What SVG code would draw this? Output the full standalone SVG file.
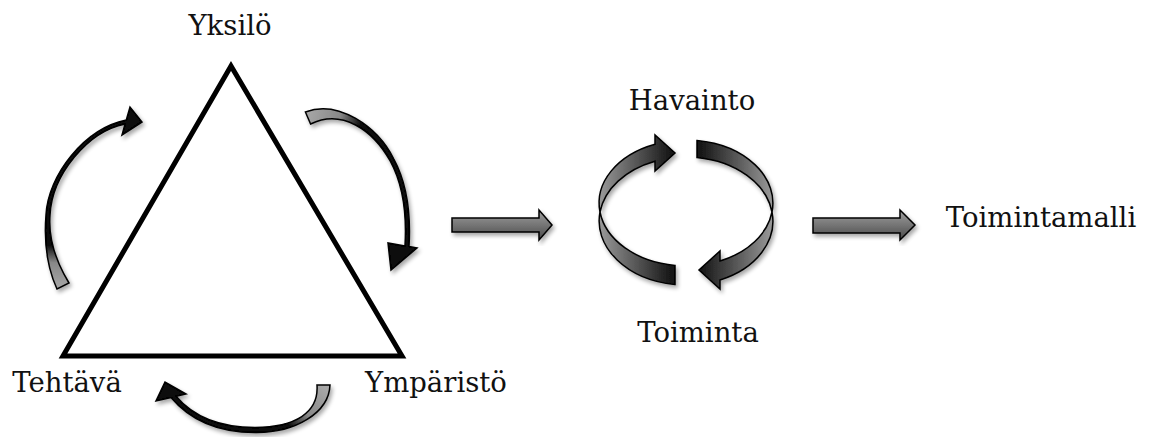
<svg xmlns="http://www.w3.org/2000/svg" width="1151" height="437" viewBox="0 0 1151 437">
<style>
  .lbl { font-family: "DejaVu Serif", "Liberation Serif", serif; font-size: 27.5px; fill: #111; }
  .arr { stroke: #000; stroke-width: 1.5; stroke-linejoin: miter; filter: url(#sh); }
</style>
<defs>
  <filter id="sh" x="-20%" y="-20%" width="140%" height="140%">
    <feGaussianBlur in="SourceAlpha" stdDeviation="2"/>
    <feOffset dx="2" dy="3" result="b"/>
    <feComponentTransfer><feFuncA type="linear" slope="0.35"/></feComponentTransfer>
    <feMerge><feMergeNode/><feMergeNode in="SourceGraphic"/></feMerge>
  </filter>
  <linearGradient id="gLeft" gradientUnits="userSpaceOnUse" x1="60" y1="290" x2="62" y2="245">
    <stop offset="0" stop-color="#a8a8a8"/>
    <stop offset="0.6" stop-color="#888"/>
    <stop offset="1" stop-color="#080808"/>
  </linearGradient>
  <linearGradient id="gRight" gradientUnits="userSpaceOnUse" x1="305" y1="115" x2="360" y2="130">
    <stop offset="0" stop-color="#a8a8a8"/>
    <stop offset="0.6" stop-color="#888"/>
    <stop offset="1" stop-color="#080808"/>
  </linearGradient>
  <linearGradient id="gBottom" gradientUnits="userSpaceOnUse" x1="328" y1="390" x2="290" y2="428">
    <stop offset="0" stop-color="#a8a8a8"/>
    <stop offset="0.6" stop-color="#888"/>
    <stop offset="1" stop-color="#080808"/>
  </linearGradient>
  <linearGradient id="gCycle" gradientUnits="userSpaceOnUse" x1="598" y1="0" x2="774" y2="0">
    <stop offset="0" stop-color="#9c9c9c"/>
    <stop offset="0.42" stop-color="#151515"/>
    <stop offset="0.58" stop-color="#151515"/>
    <stop offset="1" stop-color="#9c9c9c"/>
  </linearGradient>
  <linearGradient id="gStraight" x1="0" y1="0" x2="0" y2="1">
    <stop offset="0" stop-color="#a0a0a0"/>
    <stop offset="1" stop-color="#4a4a4a"/>
  </linearGradient>
</defs>

<g id="triangle">
  <polygon points="231,66 63,356 402,356" fill="none" stroke="#000" stroke-width="5" stroke-linejoin="miter"/>
</g>

<g id="yksilo"><text class="lbl" x="230" y="35" text-anchor="middle">Yksilö</text></g>
<g id="tehtava"><text class="lbl" x="67" y="392" text-anchor="middle">Tehtävä</text></g>
<g id="ymparisto"><text class="lbl" x="365" y="392">Ympäristö</text></g>
<g id="havainto"><text class="lbl" x="692" y="110" text-anchor="middle">Havainto</text></g>
<g id="toiminta"><text class="lbl" x="698" y="342" text-anchor="middle">Toiminta</text></g>
<g id="toimintamalli"><text class="lbl" x="1041" y="227" text-anchor="middle">Toimintamalli</text></g>

<g id="connectors">
  <!-- left curved arrow (Tehtävä side up to Yksilö) -->
  <path class="arr" fill="url(#gLeft)" d="M57,289 C46.5,266 44,240 46,215 C48,175 84.5,128.5 126.3,120 L130,107 L142,122 L122,135 L125.1,124 C87.5,131.5 52,175 50,215 C48,240 57.5,264 69,283 Z"/>
  <!-- right curved arrow (Yksilö down to Ympäristö) -->
  <path class="arr" fill="url(#gRight)" d="M305.4,112 C338,99.4 377.4,126.2 393.8,159 C405.8,181 411,212 409,246.5 L417,248 L391,270 L388,243 L405,246 C407,212 402.2,183 390.2,161 C372.6,129.8 342,108.6 310.6,124 Z"/>
  <!-- bottom curved arrow (Ympäristö to Tehtävä) -->
  <path class="arr" fill="url(#gBottom)" d="M330,384.9 C329,413 295,433 255,432.5 C222,432.5 191.5,422 171,397.5 L156,401 L165,382 L186,394 L176,396.3 C194.5,418 222,427.5 255,427.5 C295,427 319,413 317,385.1 Z"/>

  <!-- cycle: left arc -->
  <path class="arr" fill="url(#gCycle)" d="M655,144.2 L655,135 L675,153 L655,171 L655,161.2 A87,64 0 0,0 600,212 A87,63 0 0,1 655,144.2 Z"/>
  <path class="arr" fill="url(#gCycle)" d="M600,212 A87,63 0 0,0 675,265.5 L675,284.5 A87,64 0 0,1 600,212 Z"/>
  <!-- cycle: right arc -->
  <path class="arr" fill="url(#gCycle)" d="M697,140.5 A87,63 0 0,1 772,212 A87,64 0 0,0 697,157.5 Z"/>
  <path class="arr" fill="url(#gCycle)" d="M772,212 A87,63 0 0,1 720,261 L720,251 L699,270 L720,289 L720,280 A87,64 0 0,0 772,212 Z"/>

  <!-- straight arrows -->
  <path class="arr" fill="url(#gStraight)" d="M452,218 L539,218 L539,210 L552,225 L539,240 L539,232 L452,232 Z"/>
  <path class="arr" fill="url(#gStraight)" d="M813,218 L900,218 L900,210 L915,225 L900,240 L900,233 L813,233 Z"/>
</g>
</svg>
